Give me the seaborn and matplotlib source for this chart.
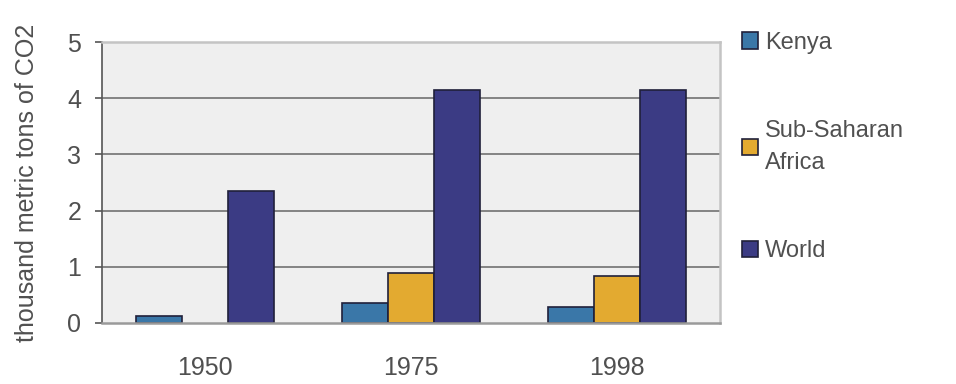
import numpy as np
import pandas as pd
import seaborn as sns
import matplotlib.pyplot as plt

years = ['1950', '1975', '1998']
regions = ['Kenya', 'Sub-Saharan Africa', 'World']
kenya = [0.12, 0.36, 0.29]
ssa = [np.nan, 0.88, 0.83]
world = [2.34, 4.15, 4.15]
legend_labels = ['Kenya', 'Sub-Saharan\nAfrica', 'World']
colors = ['#3a77a8', '#e3aa30', '#3b3b84']

df = pd.DataFrame({
    'year': years * 3,
    'region': [r for r in regions for _ in years],
    'value': kenya + ssa + world,
})

sns.set_theme(style='white')
plt.rcParams['font.family'] = ['Liberation Sans', 'DejaVu Sans']

fig = plt.figure(figsize=(9.56, 3.84), dpi=100)
ax = fig.add_axes([0.1067, 0.159, 0.6463, 0.7316])
ax.set_facecolor('#efefef')

sns.barplot(data=df, x='year', y='value', hue='region', order=years,
            hue_order=regions, palette=colors, saturation=1, width=0.67,
            edgecolor='#20203a', linewidth=1.2, ax=ax, legend=True)

ax.set_ylim(0, 5)
ax.set_xlim(-0.5, 2.5)
ax.set_yticks([0, 1, 2, 3, 4, 5])
for y in [1, 2, 3, 4]:
    ax.axhline(y, color='#666666', lw=1.1, zorder=0)
ax.set_axisbelow(True)

for s in ['top', 'right', 'bottom']:
    ax.spines[s].set_color('#c4c4c4')
    ax.spines[s].set_linewidth(1.8)
ax.spines['bottom'].set_color('#9a9a9a')
ax.spines['left'].set_color('#555555')
ax.spines['left'].set_linewidth(1.2)

ax.tick_params(axis='y', direction='out', length=5, width=1.2,
               color='#555555', left=True, labelsize=18,
               labelcolor='#505050', pad=10)
ax.tick_params(axis='x', length=0, labelsize=18, labelcolor='#505050', pad=24)
ax.set_xlabel('')
ax.set_ylabel('thousand metric tons of CO2', fontsize=18, color='#505050',
              labelpad=20)

handles, _ = ax.get_legend_handles_labels()
leg = ax.legend(handles, legend_labels, loc='upper left',
                bbox_to_anchor=(1.02, 1.07), frameon=False, fontsize=17,
                labelcolor='#505050', handlelength=0.7, handleheight=0.7,
                handletextpad=0.3, labelspacing=2.8, borderaxespad=0)
for t in leg.get_texts():
    t.set_linespacing(1.6)

fig.savefig('out.png', dpi=100)
